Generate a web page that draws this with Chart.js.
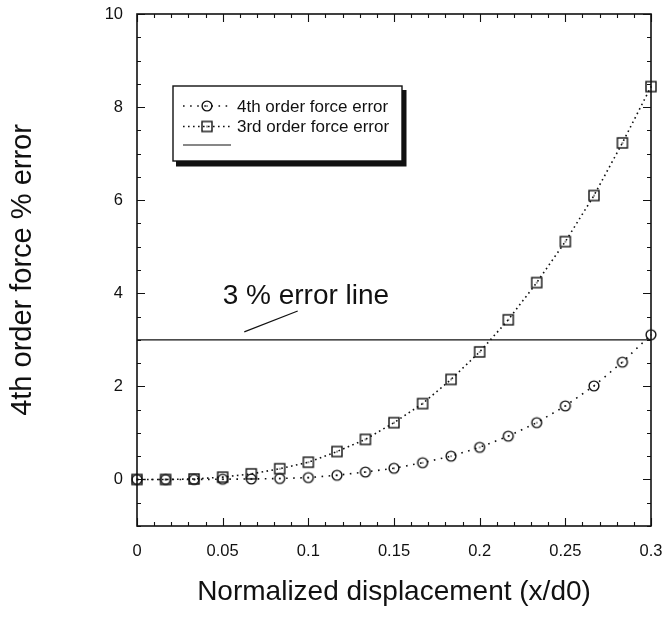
<!DOCTYPE html>
<html>
<head>
<meta charset="utf-8">
<script src="https://cdn.jsdelivr.net/npm/chart.js@4.4.0/dist/chart.umd.min.js"></script>
<style>
html,body{margin:0;padding:0;background:#fff;}
#wrap{width:665px;height:617px;position:relative;}
</style>
</head>
<body>
<div id="wrap"><canvas id="c" width="665" height="617"></canvas></div>
<script>
// ---- data ----
const xValues = [0, 0.0167, 0.0333, 0.05, 0.0667, 0.0833, 0.1, 0.1167, 0.1333, 0.15, 0.1667, 0.1833, 0.2, 0.2167, 0.2333, 0.25, 0.2667, 0.2833, 0.3];
const fourthOrderError = [0, 0, 0, 0.005, 0.01, 0.02, 0.04, 0.09, 0.16, 0.24, 0.36, 0.5, 0.69, 0.93, 1.22, 1.58, 2.01, 2.52, 3.11];
const thirdOrderError = [0, 0, 0.01, 0.05, 0.12, 0.23, 0.37, 0.6, 0.86, 1.22, 1.63, 2.15, 2.74, 3.43, 4.23, 5.11, 6.1, 7.23, 8.44];
const errorLineX = [0, 0.3];
const errorLineY = [3, 3];
const seriesNames = ['4th order force error', '3rd order force error', ''];
const xTickValues = [0, 0.05, 0.1, 0.15, 0.2, 0.25, 0.3];
const xTickLabels = ['0', '0.05', '0.1', '0.15', '0.2', '0.25', '0.3'];
const yTickValues = [0, 2, 4, 6, 8, 10];
const yTickLabels = ['0', '2', '4', '6', '8', '10'];
const xTitle = 'Normalized displacement (x/d0)';
const yTitle = '4th order force % error';
const annotationText = '3 % error line';

const FONT = '"Liberation Sans", Arial, Helvetica, sans-serif';
const INK = '#111';

// marker images
function makeCircle() {
  const c = document.createElement('canvas'); c.width = 14; c.height = 14;
  const g = c.getContext('2d');
  g.strokeStyle = INK; g.lineWidth = 1.4;
  g.beginPath(); g.arc(7, 7, 4.9, 0, Math.PI * 2); g.stroke();
  g.fillStyle = INK; g.fillRect(6.4, 6.4, 1.3, 1.3);
  return c;
}
function makeSquare() {
  const c = document.createElement('canvas'); c.width = 14; c.height = 14;
  const g = c.getContext('2d');
  g.strokeStyle = INK; g.lineWidth = 1.4;
  g.strokeRect(2, 2, 10, 10);
  g.fillStyle = INK; g.fillRect(6.4, 6.4, 1.3, 1.3);
  return c;
}
const circleImg = makeCircle();
const squareImg = makeSquare();

const toPts = (xs, ys) => xs.map((x, i) => ({ x: x, y: ys[i] }));

// inward ticks + frame
const framePlugin = {
  id: 'frame',
  afterDatasetsDraw(chart) {
    const { ctx, chartArea: a, scales: { x, y } } = chart;
    ctx.save();
    ctx.strokeStyle = INK;
    ctx.lineWidth = 1.6;
    ctx.strokeRect(a.left, a.top, a.right - a.left, a.bottom - a.top);
    ctx.lineWidth = 1.1;
    ctx.beginPath();
    for (let i = 0; i <= 30; i++) {
      const v = i * 0.01;
      const px = Math.round(x.getPixelForValue(v)) + 0.5;
      const len = (i % 5 === 0) ? 8 : 4;
      ctx.moveTo(px, a.bottom); ctx.lineTo(px, a.bottom - len);
      ctx.moveTo(px, a.top); ctx.lineTo(px, a.top + len);
    }
    for (let i = -2; i <= 20; i++) {
      const v = i * 0.5;
      const py = Math.round(y.getPixelForValue(v)) + 0.5;
      const len = (i % 4 === 0) ? 8 : 4;
      ctx.moveTo(a.left, py); ctx.lineTo(a.left + len, py);
      ctx.moveTo(a.right, py); ctx.lineTo(a.right - len, py);
    }
    ctx.stroke();
    ctx.restore();
  }
};

// annotation: "3 % error line" with leader
const annotationPlugin = {
  id: 'annot',
  afterDatasetsDraw(chart, args, opts) {
    const { ctx, scales: { x, y } } = chart;
    ctx.save();
    ctx.fillStyle = INK;
    ctx.font = '28px ' + FONT;
    ctx.textAlign = 'left';
    ctx.textBaseline = 'alphabetic';
    ctx.fillText(opts.text, x.getPixelForValue(opts.textX), y.getPixelForValue(opts.textY));
    ctx.strokeStyle = INK;
    ctx.lineWidth = 1.2;
    ctx.beginPath();
    ctx.moveTo(x.getPixelForValue(opts.from[0]), y.getPixelForValue(opts.from[1]));
    ctx.lineTo(x.getPixelForValue(opts.to[0]), y.getPixelForValue(opts.to[1]));
    ctx.stroke();
    ctx.restore();
  }
};

// boxed legend with shadow
const boxLegendPlugin = {
  id: 'boxLegend',
  afterDatasetsDraw(chart, args, opts) {
    const { ctx, chartArea: a } = chart;
    const L = a.left + opts.dx, T = a.top + opts.dy, W = opts.w, H = opts.h;
    ctx.save();
    ctx.fillStyle = INK;
    ctx.fillRect(L + 3, T + 4, W + 1.5, H + 1.5);
    ctx.fillStyle = '#fff';
    ctx.fillRect(L, T, W, H);
    ctx.strokeStyle = INK;
    ctx.lineWidth = 1.4;
    ctx.strokeRect(L, T, W, H);
    const rows = [20, 40.5, 59];
    chart.data.datasets.forEach((ds, i) => {
      const yy = T + rows[i];
      ctx.strokeStyle = INK;
      ctx.lineWidth = ds.borderWidth;
      ctx.setLineDash(ds.borderDash || []);
      ctx.beginPath();
      ctx.moveTo(L + 10, yy); ctx.lineTo(L + 58, yy);
      ctx.stroke();
      ctx.setLineDash([]);
      if (ds.pointStyle && typeof ds.pointStyle === 'object') {
        ctx.drawImage(ds.pointStyle, L + 34 - 7, yy - 7);
      }
      if (ds.label) {
        ctx.fillStyle = INK;
        ctx.font = '17px ' + FONT;
        ctx.textBaseline = 'middle';
        ctx.textAlign = 'left';
        ctx.fillText(ds.label, L + 64, yy + 1);
      }
    });
    ctx.restore();
  }
};

new Chart(document.getElementById('c'), {
  type: 'line',
  data: {
    datasets: [
      {
        label: seriesNames[0],
        data: toPts(xValues, fourthOrderError),
        borderColor: INK, borderWidth: 1.6, borderDash: [1.6, 5.5],
        pointStyle: circleImg, pointRadius: 5, backgroundColor: 'transparent',
        fill: false, tension: 0
      },
      {
        label: seriesNames[1],
        data: toPts(xValues, thirdOrderError),
        borderColor: INK, borderWidth: 1.6, borderDash: [1.6, 3.4],
        pointStyle: squareImg, pointRadius: 5, backgroundColor: 'transparent',
        fill: false, tension: 0
      },
      {
        label: seriesNames[2],
        data: toPts(errorLineX, errorLineY),
        borderColor: INK, borderWidth: 1.2,
        pointRadius: 0, fill: false
      }
    ]
  },
  options: {
    responsive: false,
    animation: false,
    devicePixelRatio: 1,
    clip: false,
    layout: { padding: { left: 0, right: 14, top: 14, bottom: 0 } },
    plugins: {
      legend: { display: false },
      tooltip: { enabled: false },
      annot: { text: annotationText, textX: 0.05, textY: 3.76, from: [0.0626, 3.17], to: [0.0938, 3.62] },
      boxLegend: { dx: 36, dy: 72, w: 229, h: 75 }
    },
    scales: {
      x: {
        type: 'linear', min: 0, max: 0.3,
        afterBuildTicks: s => { s.ticks = xTickValues.map(v => ({ value: v })); },
        afterFit: s => { s.height = 91; s.paddingLeft = 0; s.paddingRight = 0; },
        ticks: {
          callback: (v, i) => xTickLabels[i],
          font: { family: FONT, size: 16.5 }, color: INK, padding: 16, maxRotation: 0
        },
        grid: { display: false, drawTicks: false },
        border: { display: false },
        title: { display: true, text: xTitle, font: { family: FONT, size: 28 }, color: INK, padding: { top: 0, bottom: 8 } }
      },
      y: {
        type: 'linear', min: -1, max: 10,
        afterBuildTicks: s => { s.ticks = yTickValues.map(v => ({ value: v })); },
        afterFit: s => { s.width = 137; s.paddingTop = 0; s.paddingBottom = 0; },
        ticks: {
          callback: (v, i) => yTickLabels[i],
          font: { family: FONT, size: 16.5 }, color: INK, padding: 14
        },
        grid: { display: false, drawTicks: false },
        border: { display: false },
        title: { display: true, text: yTitle, font: { family: FONT, size: 29 }, color: INK, padding: { top: 6, bottom: 0 } }
      }
    }
  },
  plugins: [framePlugin, annotationPlugin, boxLegendPlugin]
});
</script>
</body>
</html>
